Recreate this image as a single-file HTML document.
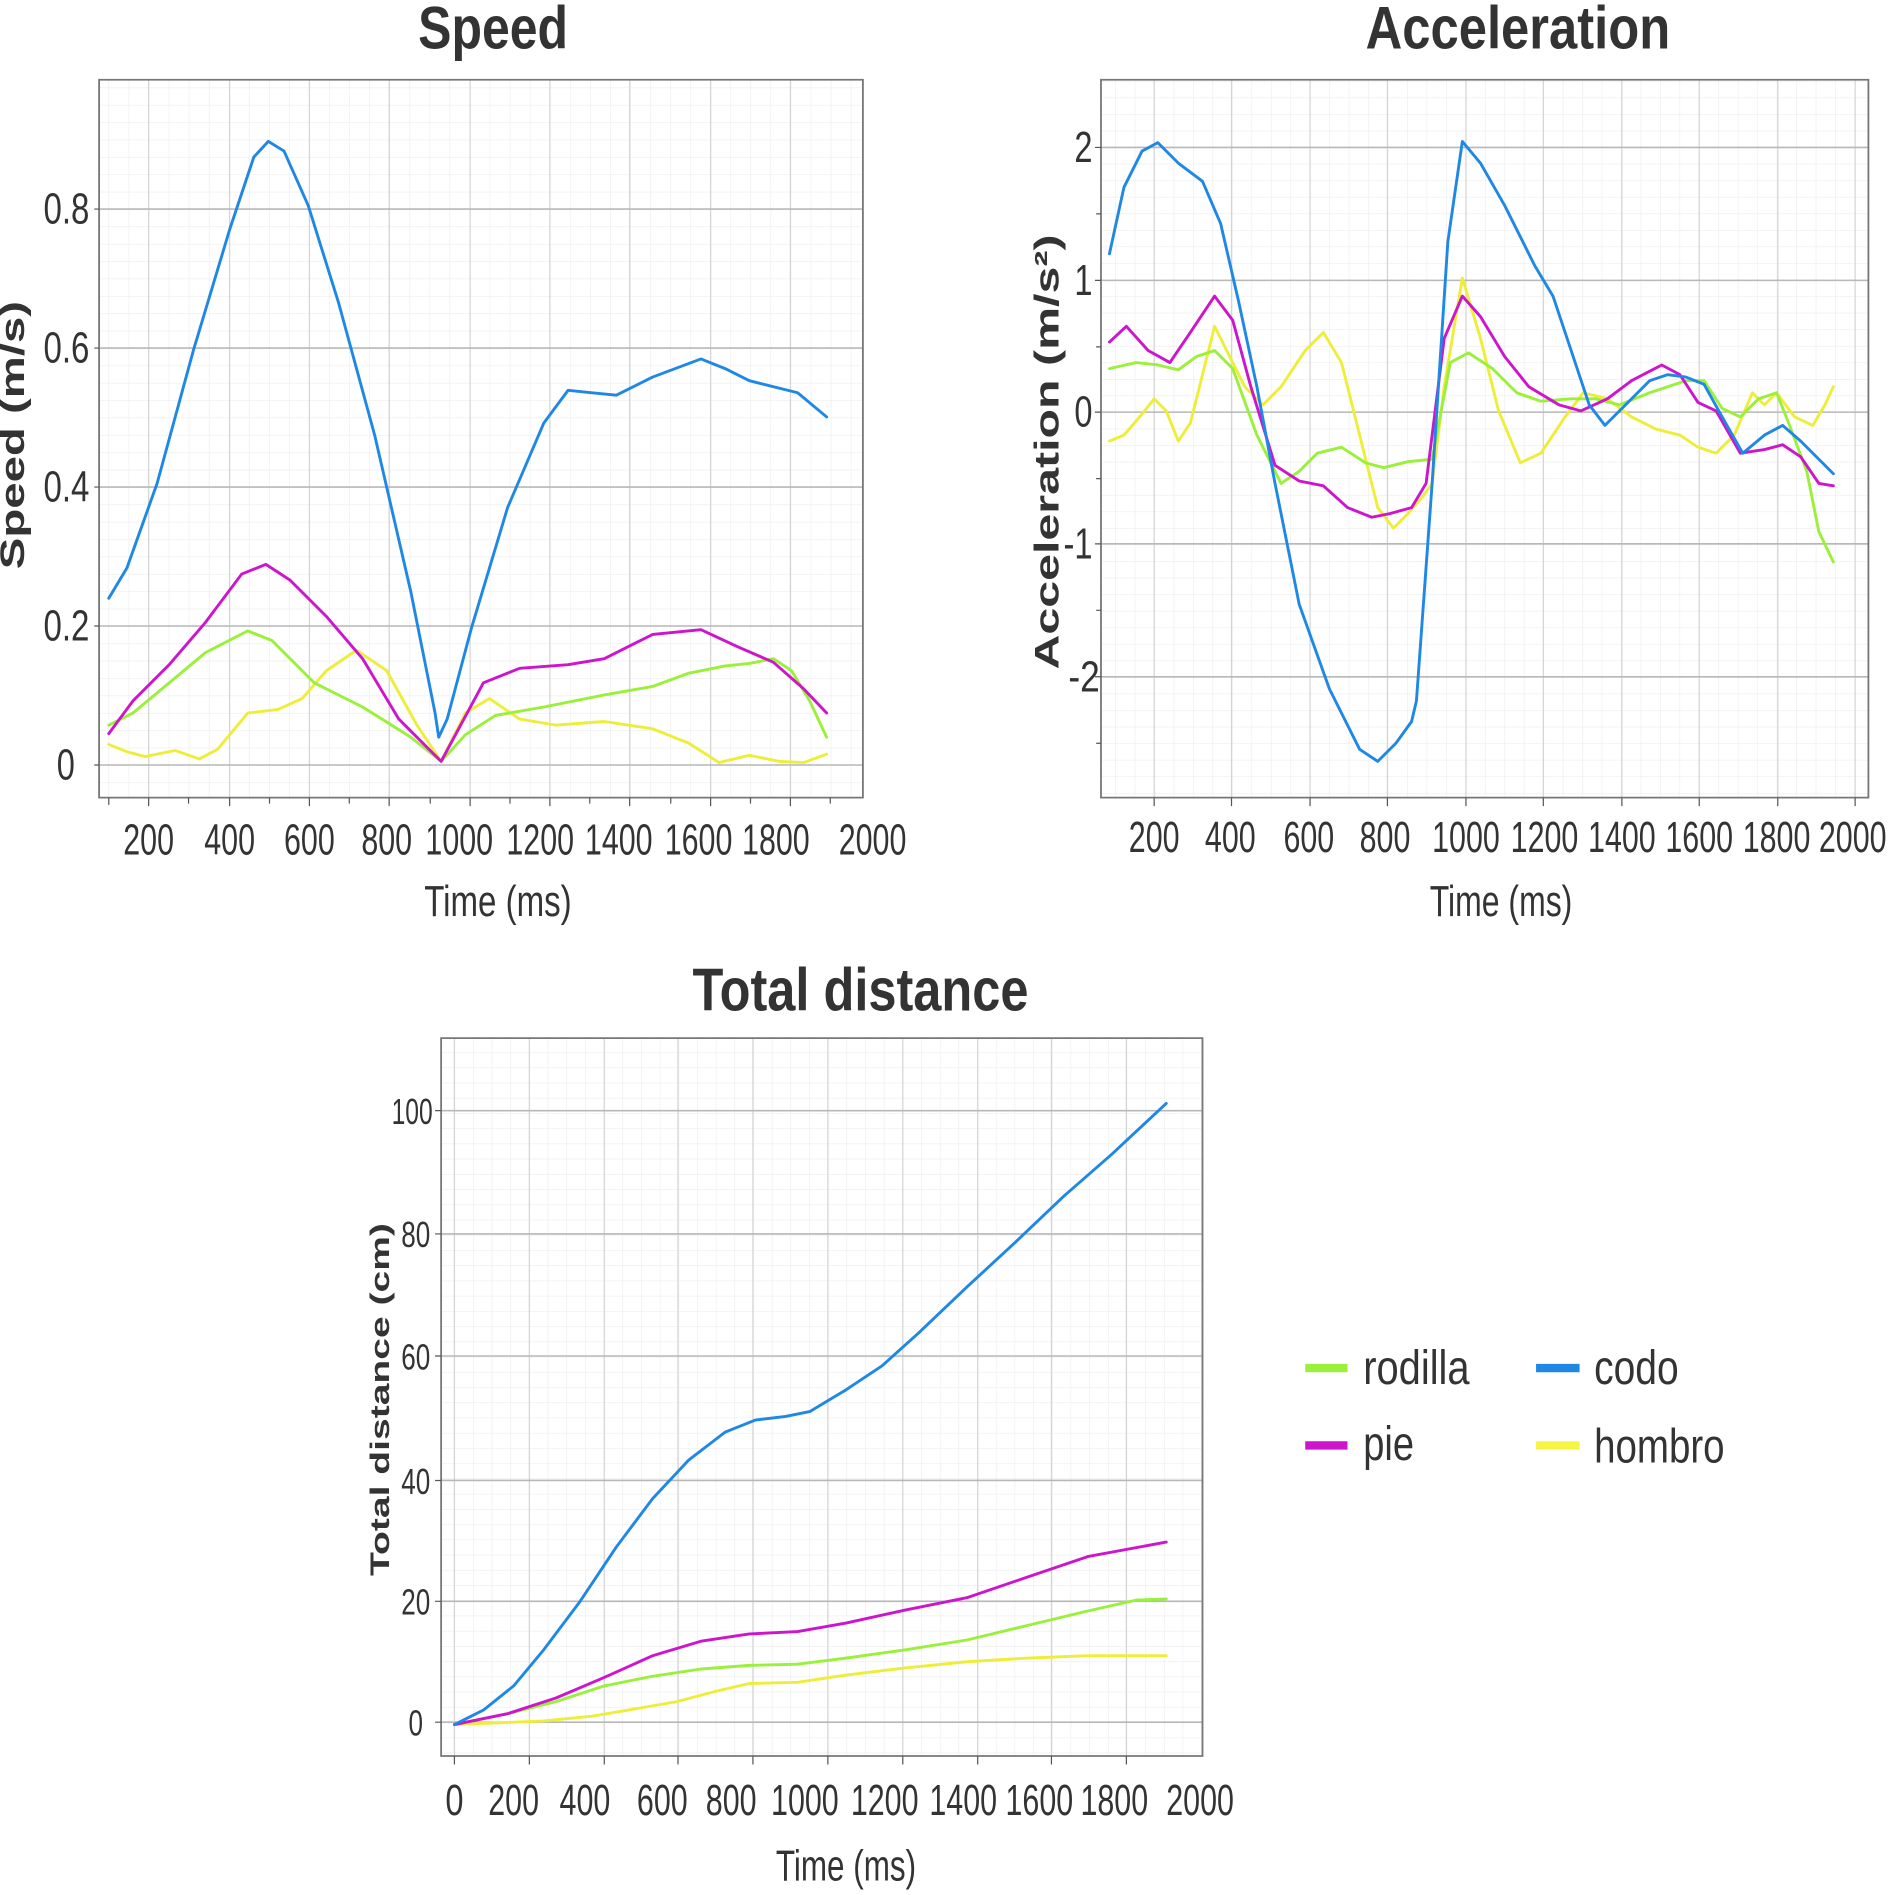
<!DOCTYPE html>
<html><head><meta charset="utf-8"><style>
html,body{margin:0;padding:0;background:#fff;}
svg{display:block;}
text{font-family:"Liberation Sans Narrow","Liberation Sans",sans-serif;fill:#333;}
.t{font-size:36px;text-anchor:middle;}
.yl{font-size:36px;text-anchor:end;}
.ti{font-size:50px;font-weight:bold;text-anchor:middle;}
.ax{font-size:36px;text-anchor:middle;}
.ya{font-family:"Liberation Sans",sans-serif;font-weight:bold;text-anchor:middle;}
.s{fill:none;stroke-width:2.4;stroke-linejoin:round;stroke-linecap:round;}
.g{stroke:#9af03a}.m{stroke:#cc15cc}.b{stroke:#1f88e5}.y{stroke:#eeee3a}
</style></head><body>
<svg width="1895" height="1895" viewBox="0 0 1568 1568" xmlns="http://www.w3.org/2000/svg">
<defs>
<pattern id="p1" x="123" y="633" width="16.6" height="14.375" patternUnits="userSpaceOnUse"><path d="M0 0V14.375M0 0H16.6" stroke="#ececec" stroke-width="1" fill="none"/></pattern>
<pattern id="p2" x="955" y="341" width="16.1" height="13.7" patternUnits="userSpaceOnUse"><path d="M0 0V13.7M0 0H16.1" stroke="#ececec" stroke-width="1" fill="none"/></pattern>
<pattern id="p3" x="376" y="1425" width="15.45" height="12.6" patternUnits="userSpaceOnUse"><path d="M0 0V12.6M0 0H15.45" stroke="#ececec" stroke-width="1" fill="none"/></pattern>
</defs>
<rect width="1568" height="1568" fill="#fff"/>

<!-- SPEED -->
<text class="ti" x="408" y="40" textLength="124" lengthAdjust="spacingAndGlyphs">Speed</text>
<rect x="82" y="66" width="632" height="594" fill="url(#p1)"/>
<g stroke="#d4d4d4" stroke-width="1">
<path d="M123 66V660M190 66V660M256 66V660M322 66V660M389 66V660M455 66V660M521 66V660M588 66V660M654 66V660"/>
</g>
<g stroke="#b8b8b8" stroke-width="1.3"><path d="M82 173H714M82 288H714M82 403H714M82 518H714M82 633H714"/></g>
<path d="M82 66H714V660H82Z" fill="none" stroke="#777" stroke-width="1.5"/>
<g stroke="#555" stroke-width="1"><path d="M78 173H82M78 288H82M78 403H82M78 518H82M78 633H82M90 660V666M123 660V667M156 660V665M190 660V667M223 660V665M256 660V667M289 660V665M322 660V667M356 660V665M389 660V667M422 660V665M455 660V667M488 660V665M521 660V667M555 660V665M588 660V667M621 660V665M654 660V667M687 660V665"/></g>
<text class="yl" x="74" y="185" textLength="38" lengthAdjust="spacingAndGlyphs">0.8</text><text class="yl" x="74" y="300" textLength="38" lengthAdjust="spacingAndGlyphs">0.6</text><text class="yl" x="74" y="415" textLength="38" lengthAdjust="spacingAndGlyphs">0.4</text><text class="yl" x="74" y="530" textLength="38" lengthAdjust="spacingAndGlyphs">0.2</text><text class="yl" x="62" y="645" textLength="15" lengthAdjust="spacingAndGlyphs">0</text>
<g class="t"><text x="123" y="707" textLength="42" lengthAdjust="spacingAndGlyphs">200</text><text x="190" y="707" textLength="42" lengthAdjust="spacingAndGlyphs">400</text><text x="256" y="707" textLength="42" lengthAdjust="spacingAndGlyphs">600</text><text x="320" y="707" textLength="42" lengthAdjust="spacingAndGlyphs">800</text><text x="380" y="707" textLength="56" lengthAdjust="spacingAndGlyphs">1000</text><text x="447" y="707" textLength="56" lengthAdjust="spacingAndGlyphs">1200</text><text x="512" y="707" textLength="56" lengthAdjust="spacingAndGlyphs">1400</text><text x="578" y="707" textLength="56" lengthAdjust="spacingAndGlyphs">1600</text><text x="642" y="707" textLength="56" lengthAdjust="spacingAndGlyphs">1800</text><text x="722" y="707" textLength="56" lengthAdjust="spacingAndGlyphs">2000</text></g>
<text class="ax" x="412" y="758" textLength="122" lengthAdjust="spacingAndGlyphs">Time (ms)</text>
<text class="ya" font-size="28" transform="translate(20,360) rotate(-90)" textLength="222" lengthAdjust="spacingAndGlyphs">Speed (m/s)</text>
<polyline class="s y" points="90,616 105,622 120,626 145,621 165,628 180,620 205,590 230,587 250,578 270,555 295,538 320,555 345,600 365,630 385,590 405,578 430,595 460,600 500,597 540,603 570,615 595,631 620,625 645,630 665,631 684,624"/>
<polyline class="s g" points="90,600 110,590 140,565 170,540 205,522 225,530 260,565 300,585 340,610 365,630 385,608 410,592 450,585 500,575 540,568 570,557 600,551 620,549 640,545 655,555 670,580 684,610"/>
<polyline class="s m" points="90,607 110,580 140,550 170,515 200,475 220,467 240,480 270,510 300,545 330,595 365,630 400,565 430,553 470,550 500,545 540,525 580,521 610,535 640,548 665,570 684,590"/>
<polyline class="s b" points="90,495 105,470 130,400 160,290 190,190 210,130 222,117 235,125 255,170 280,250 310,360 340,490 360,590 363,610 370,595 390,520 420,420 450,350 470,323 490,325 510,327 540,312 580,297 600,305 620,315 660,325 684,345"/>

<!-- ACCELERATION -->
<text class="ti" x="1256" y="40" textLength="252" lengthAdjust="spacingAndGlyphs">Acceleration</text>
<rect x="911" y="66" width="635" height="594" fill="url(#p2)"/>
<g stroke="#d4d4d4" stroke-width="1">
<path d="M955 66V660M1019 66V660M1084 66V660M1148 66V660M1213 66V660M1277 66V660M1342 66V660M1406 66V660M1471 66V660M1535 66V660"/>
</g>
<g stroke="#b8b8b8" stroke-width="1.3"><path d="M911 122H1546M911 232H1546M911 341H1546M911 450H1546M911 560H1546"/></g>
<path d="M911 66H1546V660H911Z" fill="none" stroke="#777" stroke-width="1.5"/>
<g stroke="#555" stroke-width="1"><path d="M906 122H911M906 232H911M906 341H911M906 450H911M906 560H911M907 177H911M907 287H911M907 396H911M907 505H911M907 615H911M955 660V667M1019 660V667M1084 660V667M1148 660V667M1213 660V667M1277 660V667M1342 660V667M1406 660V667M1471 660V667M1535 660V667"/></g>
<text class="yl" x="904" y="134" textLength="15" lengthAdjust="spacingAndGlyphs">2</text><text class="yl" x="904" y="244" textLength="15" lengthAdjust="spacingAndGlyphs">1</text><text class="yl" x="904" y="353" textLength="15" lengthAdjust="spacingAndGlyphs">0</text><text class="yl" x="904" y="462" textLength="24" lengthAdjust="spacingAndGlyphs">-1</text><text class="yl" x="910" y="572" textLength="26" lengthAdjust="spacingAndGlyphs">-2</text>
<g class="t"><text x="955" y="705" textLength="42" lengthAdjust="spacingAndGlyphs">200</text><text x="1018" y="705" textLength="42" lengthAdjust="spacingAndGlyphs">400</text><text x="1083" y="705" textLength="42" lengthAdjust="spacingAndGlyphs">600</text><text x="1146" y="705" textLength="42" lengthAdjust="spacingAndGlyphs">800</text><text x="1213" y="705" textLength="56" lengthAdjust="spacingAndGlyphs">1000</text><text x="1278" y="705" textLength="56" lengthAdjust="spacingAndGlyphs">1200</text><text x="1342" y="705" textLength="56" lengthAdjust="spacingAndGlyphs">1400</text><text x="1406" y="705" textLength="56" lengthAdjust="spacingAndGlyphs">1600</text><text x="1470" y="705" textLength="56" lengthAdjust="spacingAndGlyphs">1800</text><text x="1533" y="705" textLength="56" lengthAdjust="spacingAndGlyphs">2000</text></g>
<text class="ax" x="1242" y="758" textLength="118" lengthAdjust="spacingAndGlyphs">Time (ms)</text>
<text class="ya" font-size="28" transform="translate(876,374) rotate(-90)" textLength="360" lengthAdjust="spacingAndGlyphs">Acceleration (m/s²)</text>
<polyline class="s y" points="918,365 930,360 943,345 955,330 965,340 975,365 985,350 995,310 1005,270 1015,290 1030,320 1045,335 1060,320 1080,290 1095,275 1110,300 1125,360 1140,420 1153,437 1165,425 1178,410 1185,400 1195,320 1210,230 1225,280 1240,340 1258,383 1275,375 1295,345 1310,325 1330,330 1350,345 1370,355 1390,360 1405,370 1420,375 1435,360 1450,325 1460,335 1470,325 1485,345 1500,352 1510,335 1517,320"/>
<polyline class="s g" points="918,305 940,300 958,302 975,306 990,295 1005,290 1020,305 1040,360 1060,400 1075,390 1090,375 1110,370 1130,383 1145,387 1165,382 1185,380 1200,300 1215,292 1235,305 1255,325 1275,332 1300,330 1320,330 1340,335 1365,325 1395,315 1410,315 1425,338 1440,345 1455,330 1470,325 1480,350 1495,390 1505,440 1517,465"/>
<polyline class="s m" points="918,283 932,270 950,290 968,300 985,275 1005,245 1020,265 1035,320 1055,385 1075,398 1095,402 1115,420 1135,428 1150,425 1168,420 1180,400 1195,280 1210,245 1225,262 1245,295 1265,320 1290,335 1308,340 1330,330 1350,315 1375,302 1390,310 1405,333 1420,340 1440,375 1460,372 1475,368 1490,378 1505,400 1517,402"/>
<polyline class="s b" points="918,210 930,155 945,125 958,118 975,135 995,150 1010,185 1025,250 1040,320 1055,400 1075,500 1100,570 1125,620 1140,630 1155,615 1168,597 1172,580 1185,400 1198,200 1210,117 1225,135 1245,170 1270,220 1285,245 1300,290 1315,335 1328,352 1345,335 1365,315 1380,310 1395,312 1410,318 1425,345 1442,375 1460,360 1475,352 1490,365 1505,380 1517,392"/>

<!-- TOTAL DISTANCE -->
<text class="ti" x="712" y="836" textLength="278" lengthAdjust="spacingAndGlyphs">Total distance</text>
<rect x="365" y="859" width="630" height="594" fill="url(#p3)"/>
<g stroke="#d4d4d4" stroke-width="1">
<path d="M376 859V1453M438 859V1453M500 859V1453M561 859V1453M623 859V1453M685 859V1453M747 859V1453M809 859V1453M870 859V1453M932 859V1453"/>
</g>
<g stroke="#b8b8b8" stroke-width="1.3"><path d="M365 919H995M365 1021H995M365 1122H995M365 1225H995M365 1325H995M365 1425H995"/></g>
<path d="M365 859H995V1453H365Z" fill="none" stroke="#777" stroke-width="1.5"/>
<g stroke="#555" stroke-width="1"><path d="M360 919H365M360 1021H365M360 1122H365M360 1225H365M360 1325H365M360 1425H365M376 1453V1460M438 1453V1460M500 1453V1460M561 1453V1460M623 1453V1460M685 1453V1460M747 1453V1460M809 1453V1460M870 1453V1460M932 1453V1460"/></g>
<g class="yl" style="font-size:30px"><text x="358" y="930" textLength="34" lengthAdjust="spacingAndGlyphs">100</text><text x="356" y="1032" textLength="24" lengthAdjust="spacingAndGlyphs">80</text><text x="356" y="1133" textLength="24" lengthAdjust="spacingAndGlyphs">60</text><text x="356" y="1236" textLength="24" lengthAdjust="spacingAndGlyphs">40</text><text x="356" y="1336" textLength="24" lengthAdjust="spacingAndGlyphs">20</text><text x="350" y="1436" textLength="12" lengthAdjust="spacingAndGlyphs">0</text></g>
<g class="t"><text x="376" y="1502" textLength="15" lengthAdjust="spacingAndGlyphs">0</text><text x="425" y="1502" textLength="42" lengthAdjust="spacingAndGlyphs">200</text><text x="484" y="1502" textLength="42" lengthAdjust="spacingAndGlyphs">400</text><text x="548" y="1502" textLength="42" lengthAdjust="spacingAndGlyphs">600</text><text x="605" y="1502" textLength="42" lengthAdjust="spacingAndGlyphs">800</text><text x="666" y="1502" textLength="56" lengthAdjust="spacingAndGlyphs">1000</text><text x="732" y="1502" textLength="56" lengthAdjust="spacingAndGlyphs">1200</text><text x="797" y="1502" textLength="56" lengthAdjust="spacingAndGlyphs">1400</text><text x="860" y="1502" textLength="56" lengthAdjust="spacingAndGlyphs">1600</text><text x="922" y="1502" textLength="56" lengthAdjust="spacingAndGlyphs">1800</text><text x="993" y="1502" textLength="56" lengthAdjust="spacingAndGlyphs">2000</text></g>
<text class="ax" x="700" y="1556" textLength="116" lengthAdjust="spacingAndGlyphs">Time (ms)</text>
<text class="ya" font-size="22" transform="translate(322,1158) rotate(-90)" textLength="292" lengthAdjust="spacingAndGlyphs">Total distance (cm)</text>
<polyline class="s y" points="376,1427 450,1424 490,1420 520,1415 560,1408 590,1400 620,1393 660,1392 700,1386 750,1380 800,1375 850,1372 900,1370 965,1370"/>
<polyline class="s g" points="376,1427 420,1418 460,1408 500,1395 540,1387 580,1381 620,1378 660,1377 700,1372 750,1365 800,1357 850,1345 900,1333 940,1324 965,1323"/>
<polyline class="s m" points="376,1427 420,1418 460,1405 500,1388 540,1370 580,1358 620,1352 660,1350 700,1343 750,1332 800,1322 850,1305 900,1288 965,1276"/>
<polyline class="s b" points="376,1427 400,1415 425,1395 450,1365 480,1325 510,1280 540,1240 570,1208 600,1185 625,1175 650,1172 670,1168 700,1150 730,1130 760,1103 800,1065 840,1028 880,990 920,955 965,913"/>

<!-- LEGEND -->
<g stroke-width="7"><path d="M1080 1132H1115" stroke="#9af03a"/><path d="M1271 1132H1307" stroke="#1f88e5"/><path d="M1080 1196H1115" stroke="#cc15cc"/><path d="M1271 1196H1307" stroke="#f5f542"/></g>
<g style="font-size:40px"><text x="1128" y="1145" textLength="88" lengthAdjust="spacingAndGlyphs">rodilla</text><text x="1319" y="1145" textLength="70" lengthAdjust="spacingAndGlyphs">codo</text><text x="1128" y="1208" textLength="42" lengthAdjust="spacingAndGlyphs">pie</text><text x="1319" y="1210" textLength="108" lengthAdjust="spacingAndGlyphs">hombro</text></g>
</svg>
</body></html>
